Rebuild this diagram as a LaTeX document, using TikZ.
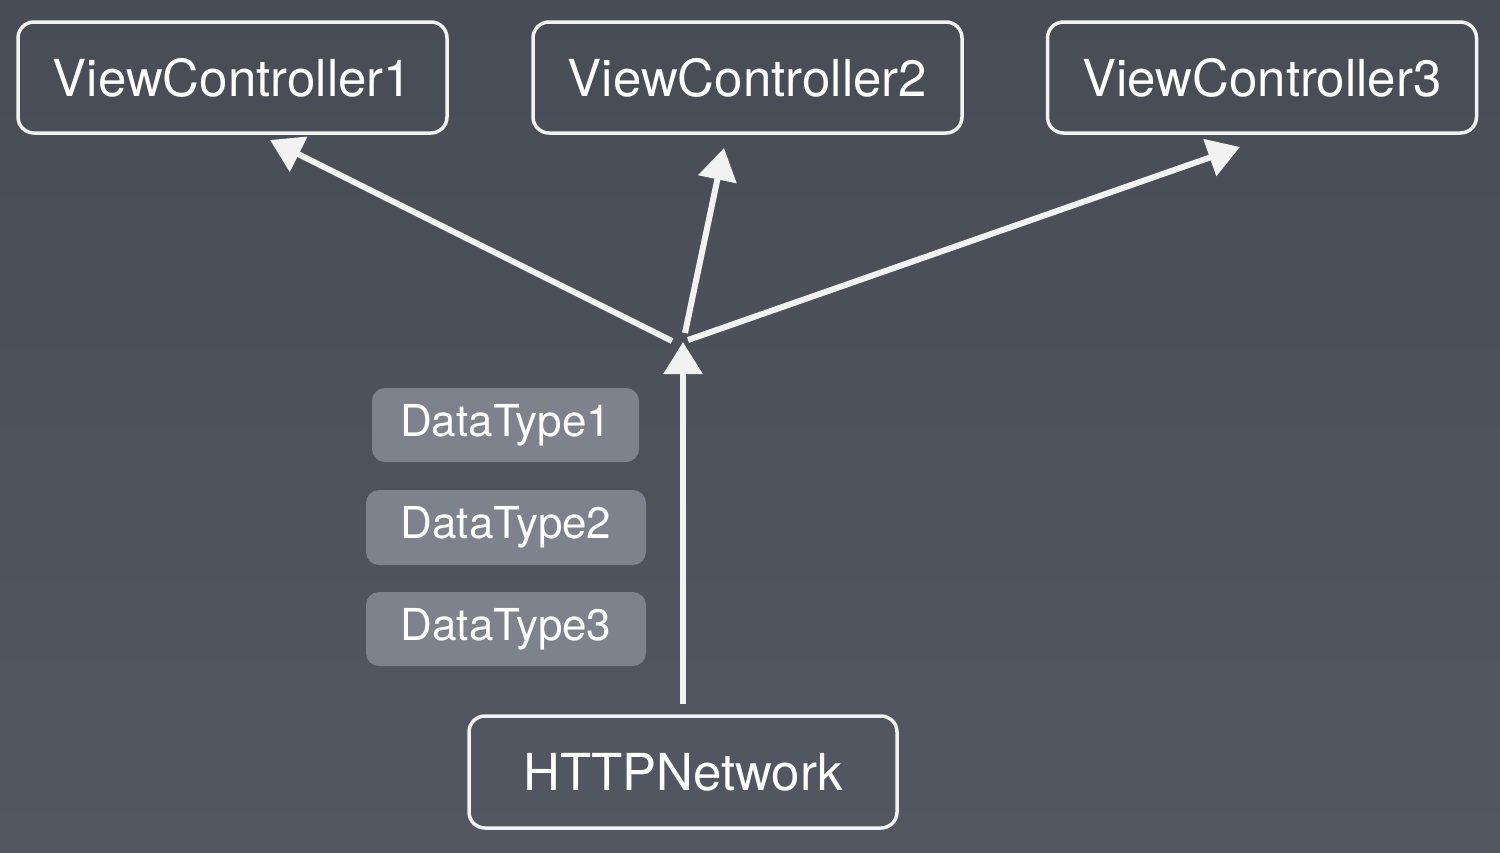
\documentclass[tikz,border=0pt]{standalone}
\usepackage{fontspec}
\setmainfont{TeX Gyre Heros}
\usetikzlibrary{arrows.meta}
\definecolor{board}{HTML}{474C55}
\definecolor{boardlight}{HTML}{525761}
\definecolor{dtfill}{HTML}{7D828C}
\definecolor{chalk}{HTML}{F2F2F2}
\tikzset{
  vcbox/.style={draw=chalk, line width=3.5pt, rounded corners=16pt, minimum width=429pt, minimum height=111pt, text=white, font=\fontsize{51}{60}\selectfont, inner sep=0pt},
  dtbox/.style={fill=dtfill, rounded corners=13pt, minimum height=74pt, text=white, font=\fontsize{44}{50}\selectfont, inner sep=0pt},
  chalkline/.style={draw=chalk, line width=6pt},
  chalkarrow/.style={chalkline, -{Triangle[length=32pt,width=38pt]}},
}
\begin{document}
\begin{tikzpicture}[x=1pt,y=-1pt]
\useasboundingbox (0,0) rectangle (1500,852);
\shade[top color=board, bottom color=boardlight] (0,0) rectangle (1500,852);

\node[vcbox] (vc1) at (232.5,77.5) {ViewController1};
\node[vcbox] (vc2) at (747.5,77.5) {ViewController2};
\node[vcbox] (vc3) at (1262,77.5) {ViewController3};
\node[vcbox, minimum width=428pt, minimum height=112pt] (http) at (683,772) {HTTPNetwork};

\node[dtbox, minimum width=267pt] (dt1) at (505.5,425) {DataType1};
\node[dtbox, minimum width=280pt, minimum height=75pt] (dt2) at (506,527.5) {DataType2};
\node[dtbox, minimum width=280pt] (dt3) at (506,629) {DataType3};

\coordinate (jc) at (683,342);
\coordinate (jl) at (672,341);
\coordinate (jm) at (685,333);
\coordinate (jr) at (688,340);
\coordinate (t1) at (270,140);
\coordinate (t2) at (724,148);
\coordinate (t3) at (1240,147);

\draw[chalkarrow, shorten <=10pt] (http.north) -- (jc);
\draw[chalkarrow] (jl) -- (t1);
\draw[chalkarrow] (jm) -- (t2);
\draw[chalkarrow] (jr) -- (t3);
\end{tikzpicture}
\end{document}
